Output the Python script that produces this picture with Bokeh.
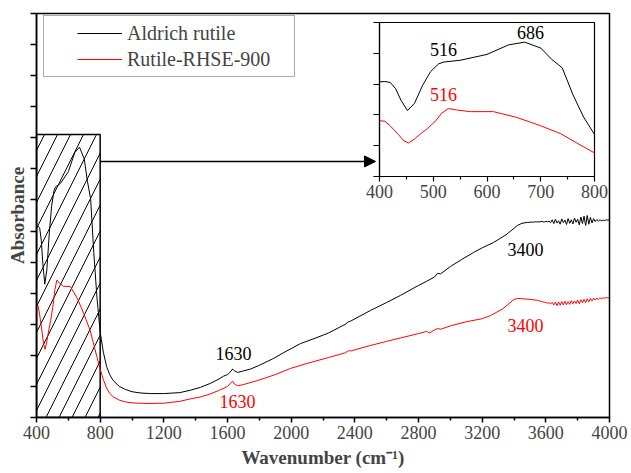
import numpy as np
from bokeh.plotting import figure
from bokeh.models import (Range1d, LinearAxis, FixedTicker, Legend, LegendItem, Label,
                          Arrow, NormalHead, CustomJSTickFormatter)
from bokeh.embed import file_html
from bokeh.resources import INLINE

# ---------------- data ----------------
wn_aldrich = [400, 410, 420, 430, 440, 452, 465, 480, 495, 510, 520, 550, 600, 640, 670, 700,
              720, 740, 760, 780, 800, 820, 840, 860, 880, 920, 960, 1000, 1050, 1116, 1200,
              1300, 1368, 1430, 1493, 1540, 1575, 1600, 1615, 1632, 1645, 1663, 1700, 1745,
              1800, 1889, 1950, 2059, 2150, 2235, 2340, 2360, 2373, 2500, 2600, 2687, 2800,
              2850, 2900, 2920, 2938, 3001, 3070, 3146, 3200, 3271, 3350, 3422, 3450, 3485,
              3500, 3510, 3520, 3530, 3540, 3550, 3560, 3570, 3580, 3590, 3600, 3610, 3620,
              3630, 3640, 3650, 3660, 3670, 3680, 3690, 3700, 3710, 3720, 3730, 3740, 3750,
              3760, 3770, 3780, 3790, 3800, 3810, 3820, 3830, 3840, 3850, 3860, 3870, 3880,
              3890, 3900, 3910, 3920, 3930, 3940, 3950, 3960, 3970, 3980, 3990, 4000]
ab_aldrich = [6.14, 6.16, 6.10, 5.70, 4.95, 4.29, 4.75, 5.90, 6.80, 7.30, 7.42, 7.53, 7.91, 8.52,
              8.70, 8.32, 7.60, 7.04, 5.30, 3.85, 2.75, 2.10, 1.65, 1.38, 1.20, 1.00, 0.90, 0.83,
              0.79, 0.77, 0.77, 0.80, 0.88, 0.97, 1.10, 1.22, 1.33, 1.38, 1.45, 1.56, 1.50, 1.45,
              1.50, 1.56, 1.68, 1.90, 2.08, 2.38, 2.55, 2.72, 3.00, 3.08, 3.10, 3.45, 3.70, 3.93,
              4.25, 4.38, 4.52, 4.64, 4.62, 4.86, 5.08, 5.31, 5.46, 5.63, 5.88, 6.18, 6.25, 6.28,
              6.28, 6.29, 6.28, 6.30, 6.29, 6.30, 6.29, 6.31, 6.30, 6.29, 6.31, 6.30, 6.32,
              6.27, 6.36, 6.24, 6.38, 6.26, 6.33, 6.22, 6.39, 6.27, 6.35, 6.21, 6.40, 6.25,
              6.36, 6.23, 6.42, 6.28, 6.38, 6.20, 6.45, 6.24, 6.48, 6.18, 6.50, 6.22, 6.44,
              6.26, 6.40, 6.30, 6.37, 6.32, 6.36, 6.33, 6.35, 6.34, 6.36, 6.35, 6.37]

wn_rhse = [400, 410, 420, 435, 445, 454, 465, 475, 489, 505, 515, 528, 545, 569, 612, 656, 699,
           737, 770, 800, 820, 840, 860, 880, 920, 960, 1000, 1100, 1200, 1300, 1368, 1430,
           1493, 1550, 1600, 1632, 1645, 1663, 1700, 1789, 1900, 1996, 2100, 2235, 2340, 2360,
           2373, 2500, 2600, 2687, 2800, 2850, 2870, 2900, 2920, 2940, 3001, 3100, 3200, 3253,
           3330, 3400, 3422, 3460, 3500, 3548, 3560, 3570, 3580, 3590, 3600, 3610, 3620, 3630,
           3640, 3650, 3660, 3670, 3680, 3690, 3700, 3710, 3720, 3730, 3740, 3750, 3760, 3770,
           3780, 3790, 3800, 3810, 3820, 3830, 3840, 3850, 3860, 3870, 3880, 3890, 3900, 3910,
           3920, 3930, 3940, 3950, 3960, 3970, 3980, 3990, 4000]
ab_rhse = [3.64, 3.60, 3.30, 2.75, 2.35, 2.20, 2.45, 2.75, 3.12, 3.64, 4.10, 4.42, 4.32, 4.22,
           4.22, 3.84, 3.32, 2.80, 2.14, 1.56, 1.22, 0.95, 0.78, 0.67, 0.56, 0.50, 0.47, 0.45,
           0.46, 0.52, 0.60, 0.66, 0.76, 0.88, 1.00, 1.17, 1.07, 1.02, 1.06, 1.19, 1.38, 1.58,
           1.74, 1.93, 2.08, 2.15, 2.14, 2.32, 2.45, 2.56, 2.70, 2.77, 2.72, 2.82, 2.86, 2.84,
           2.95, 3.08, 3.18, 3.28, 3.50, 3.80, 3.83, 3.82, 3.80, 3.77, 3.75, 3.74, 3.72, 3.71,
           3.70, 3.68, 3.69, 3.66, 3.70, 3.62, 3.71, 3.60, 3.72, 3.61, 3.73, 3.62, 3.74, 3.63,
           3.73, 3.64, 3.76, 3.66, 3.75, 3.67, 3.78, 3.66, 3.79, 3.69, 3.80, 3.70, 3.82, 3.72,
           3.83, 3.75, 3.84, 3.78, 3.84, 3.80, 3.85, 3.82, 3.85, 3.84, 3.86, 3.85, 3.86]

series_names = ["Aldrich rutile", "Rutile-RHSE-900"]
series_colors = ["black", "red"]

x_ticks = [400, 800, 1200, 1600, 2000, 2400, 2800, 3200, 3600, 4000]
x_minor = [600, 1000, 1400, 1800, 2200, 2600, 3000, 3400, 3800]
y_ticks = [0, 1, 2, 3, 4, 5, 6, 7, 8, 9, 10, 11, 12, 13]

inset_x_ticks = [400, 500, 600, 700, 800]
inset_x_minor = [450, 550, 650, 750]

# peak labels: text, wavenumber, absorbance, colour
main_labels = [("1630", 1638, 2.06, "black"), ("1630", 1663, 0.51, "red"),
               ("3400", 3472, 5.41, "black"), ("3400", 3472, 2.96, "red")]
inset_labels = [("516", 519, 8.22, "black"), ("686", 681, 9.33, "black"),
                ("516", 519, 5.32, "red")]

# ---------------- layout ----------------
FONT = "Liberation Serif"
FRAME_W, FRAME_H = 573, 404
X0, X1, Y0, Y1 = 400, 4000, 0, 13
HATCH_TOP = 9.11
ARROW_Y, ARROW_X_END = 8.24, 2530

# inset box within the frame (pixels from frame left / top)
IN_L, IN_T, IN_W, IN_H = 343, 9, 215, 154
IN_X0, IN_X1 = 400, 800
IN_Y0, IN_Y1 = 0.04, 9.965

sx = (IN_X1 - IN_X0) / IN_W
ix_start = IN_X0 - IN_L * sx
ix_end = ix_start + FRAME_W * sx
sy = (IN_Y1 - IN_Y0) / IN_H
iy_start = IN_Y0 - (FRAME_H - IN_T - IN_H) * sy
iy_end = iy_start + FRAME_H * sy

p = figure(width=630, height=472, x_range=Range1d(X0, X1), y_range=Range1d(Y0, Y1),
           output_backend="svg", toolbar_location=None,
           min_border_left=36, min_border_top=13, min_border_right=21, min_border_bottom=55,
           x_axis_label="Wavenumber (cm⁻¹)", y_axis_label="Absorbance")
p.extra_x_ranges = {"ix": Range1d(ix_start, ix_end)}
p.extra_y_ranges = {"iy": Range1d(iy_start, iy_end)}
p.xgrid.visible = False
p.ygrid.visible = False
p.outline_line_color = "black"
p.outline_line_width = 1.5
p.background_fill_color = "white"
p.border_fill_color = "white"

xa = p.xaxis[0]
xa.ticker = FixedTicker(ticks=x_ticks, minor_ticks=x_minor)
xa.axis_line_width = 1.5
xa.major_tick_line_width = 1.5
xa.minor_tick_line_width = 1.5
xa.major_tick_out, xa.major_tick_in = 5, 0
xa.minor_tick_out, xa.minor_tick_in = 3, 0
xa.major_label_text_font = FONT
xa.major_label_text_font_size = "18px"
xa.major_label_standoff = 3
xa.axis_label_text_font = FONT
xa.axis_label_text_font_size = "19px"
xa.axis_label_text_font_style = "bold"
xa.axis_label_standoff = 5

ya = p.yaxis[0]
ya.ticker = FixedTicker(ticks=y_ticks, minor_ticks=[])
ya.formatter = CustomJSTickFormatter(code="return ''")
ya.axis_line_width = 1.5
ya.major_tick_line_width = 1.5
ya.major_tick_out, ya.major_tick_in = 6, 0
ya.major_label_standoff = 0
ya.axis_label_text_font = FONT
ya.axis_label_text_font_size = "19px"
ya.axis_label_text_font_style = "bold"
ya.axis_label_standoff = 3

# hatched 400-800 region
p.quad(left=[IN_X0], right=[IN_X1], bottom=[Y0], top=[HATCH_TOP], fill_color=None,
       hatch_pattern="/", hatch_color="black", hatch_scale=26, hatch_weight=1,
       line_color="black", line_width=1.5)

# main curves
p.line(wn_aldrich, ab_aldrich, line_color=series_colors[0], line_width=1)
p.line(wn_rhse, ab_rhse, line_color=series_colors[1], line_width=1)

# arrow from hatched box to the inset
p.add_layout(Arrow(end=NormalHead(size=11, fill_color="black", line_color="black"),
                   x_start=IN_X1, y_start=ARROW_Y, x_end=ARROW_X_END, y_end=ARROW_Y,
                   line_width=1.5, line_color="black"))

# inset
p.quad(left=[IN_X0], right=[IN_X1], bottom=[IN_Y0], top=[IN_Y1], x_range_name="ix",
       y_range_name="iy", fill_color="white", line_color="black", line_width=1.2)
wa, aa = np.array(wn_aldrich), np.array(ab_aldrich)
wr, ar = np.array(wn_rhse), np.array(ab_rhse)
ma, mr = wa <= IN_X1, wr <= IN_X1
p.line(wa[ma], aa[ma], x_range_name="ix", y_range_name="iy", line_color=series_colors[0], line_width=1)
p.line(wr[mr], ar[mr], x_range_name="ix", y_range_name="iy", line_color=series_colors[1], line_width=1)

ax_in_x = LinearAxis(x_range_name="ix", y_range_name="iy", fixed_location=IN_Y0,
                     bounds=(IN_X0, IN_X1),
                     ticker=FixedTicker(ticks=inset_x_ticks, minor_ticks=inset_x_minor))
ax_in_x.axis_line_width = 1.2
ax_in_x.major_tick_line_width = 1.2
ax_in_x.minor_tick_line_width = 1.2
ax_in_x.major_tick_out, ax_in_x.major_tick_in = 5, 0
ax_in_x.minor_tick_out, ax_in_x.minor_tick_in = 3, 0
ax_in_x.major_label_text_font = FONT
ax_in_x.major_label_text_font_size = "18px"
ax_in_x.major_label_standoff = 3
p.add_layout(ax_in_x, "below")

in_y_ticks = [IN_Y0 + k * (IN_Y1 - IN_Y0) / 5 for k in range(6)]
ax_in_y = LinearAxis(x_range_name="ix", y_range_name="iy", fixed_location=IN_X0,
                     bounds=(IN_Y0, IN_Y1), ticker=FixedTicker(ticks=in_y_ticks, minor_ticks=[]),
                     formatter=CustomJSTickFormatter(code="return ''"))
ax_in_y.axis_line_width = 1.2
ax_in_y.major_tick_line_width = 1.2
ax_in_y.major_tick_out, ax_in_y.major_tick_in = 6, 0
p.add_layout(ax_in_y, "left")

# peak labels
for txt, x, y, c in main_labels:
    p.add_layout(Label(x=x, y=y, text=txt, text_color=c, text_font=FONT, text_font_size="18px",
                       text_align="center", text_baseline="middle"))
for txt, x, y, c in inset_labels:
    p.add_layout(Label(x=x, y=y, text=txt, text_color=c, text_font=FONT, text_font_size="18px",
                       text_align="center", text_baseline="middle",
                       x_range_name="ix", y_range_name="iy"))

# legend: proxy renderers; the dash offset places the short sample line inside the box
leg_r = [p.line([np.nan], [np.nan], line_color=c, line_width=1, line_dash="45 1000",
                line_dash_offset=1016) for c in series_colors]
legend = Legend(items=[LegendItem(label=n, renderers=[r]) for n, r in zip(series_names, leg_r)],
                location=(7, 340), padding=4, spacing=0, margin=0,
                glyph_width=74, glyph_height=26, label_height=26, label_width=163,
                label_standoff=5, label_text_font=FONT, label_text_font_size="20px",
                border_line_color="#555555", border_line_width=1)
p.add_layout(legend)

open("out.html", "w").write(file_html(p, INLINE))
